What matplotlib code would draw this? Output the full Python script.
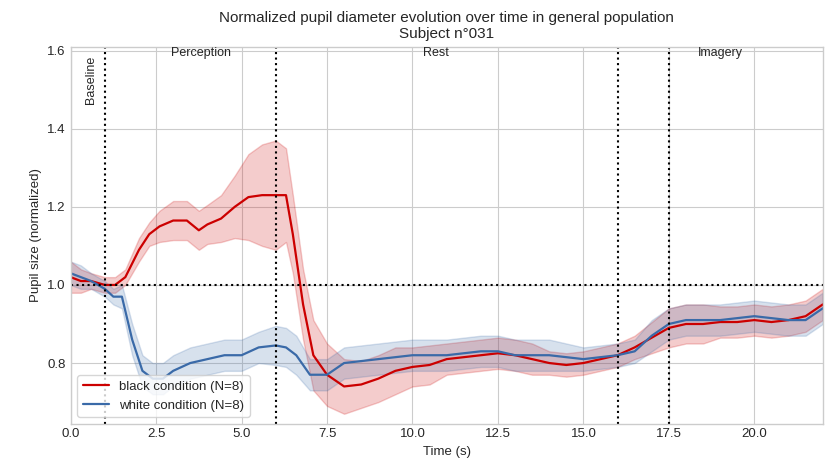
import numpy as np
import matplotlib
matplotlib.use("Agg")
import matplotlib.pyplot as plt

plt.style.use("seaborn-v0_8-whitegrid")

t_black = [0, 0.3, 0.6, 1.0, 1.3, 1.6, 2.0, 2.3, 2.6, 3.0, 3.4, 3.75, 4.0, 4.4, 4.8, 5.2, 5.6, 6.0, 6.3, 6.5, 6.8, 7.1, 7.5, 8.0, 8.5, 9.0, 9.5, 10.0, 10.5, 11.0, 12.0, 12.5, 13.0, 13.5, 14.0, 14.5, 15.0, 15.5, 16.0, 16.5, 17.0, 17.5, 18.0, 18.5, 19.0, 19.5, 20.0, 20.5, 21.0, 21.5, 22.0]
m_black = [1.02, 1.01, 1.01, 1.0, 1.0, 1.02, 1.09, 1.13, 1.15, 1.165, 1.165, 1.14, 1.155, 1.17, 1.20, 1.225, 1.23, 1.23, 1.23, 1.13, 0.95, 0.82, 0.77, 0.74, 0.745, 0.76, 0.78, 0.79, 0.795, 0.81, 0.82, 0.825, 0.82, 0.81, 0.80, 0.795, 0.80, 0.81, 0.82, 0.84, 0.865, 0.89, 0.90, 0.90, 0.905, 0.905, 0.91, 0.905, 0.91, 0.92, 0.95]
s_black = [0.04, 0.03, 0.02, 0.02, 0.02, 0.02, 0.03, 0.03, 0.04, 0.05, 0.05, 0.05, 0.05, 0.06, 0.08, 0.11, 0.13, 0.14, 0.12, 0.10, 0.09, 0.09, 0.08, 0.07, 0.06, 0.06, 0.06, 0.05, 0.05, 0.04, 0.04, 0.04, 0.04, 0.04, 0.03, 0.03, 0.03, 0.03, 0.03, 0.03, 0.04, 0.05, 0.05, 0.05, 0.04, 0.04, 0.04, 0.04, 0.04, 0.04, 0.04]

t_white = [0, 0.3, 0.6, 1.0, 1.25, 1.5, 1.8, 2.1, 2.4, 2.7, 3.0, 3.5, 4.0, 4.5, 5.0, 5.5, 6.0, 6.3, 6.6, 7.0, 7.5, 8.0, 9.0, 10.0, 11.0, 12.0, 12.5, 13.0, 14.0, 15.0, 16.0, 16.5, 17.0, 17.5, 18.0, 19.0, 20.0, 20.5, 21.0, 21.5, 22.0]
m_white = [1.03, 1.02, 1.01, 0.99, 0.97, 0.97, 0.86, 0.78, 0.76, 0.76, 0.78, 0.80, 0.81, 0.82, 0.82, 0.84, 0.845, 0.84, 0.82, 0.77, 0.77, 0.80, 0.81, 0.82, 0.82, 0.83, 0.83, 0.82, 0.82, 0.81, 0.82, 0.83, 0.87, 0.90, 0.91, 0.91, 0.92, 0.915, 0.91, 0.91, 0.94]
s_white = [0.03, 0.03, 0.02, 0.02, 0.02, 0.03, 0.04, 0.04, 0.04, 0.04, 0.04, 0.04, 0.04, 0.04, 0.04, 0.04, 0.05, 0.05, 0.05, 0.04, 0.04, 0.04, 0.04, 0.04, 0.04, 0.04, 0.04, 0.04, 0.04, 0.03, 0.03, 0.03, 0.04, 0.04, 0.04, 0.04, 0.04, 0.04, 0.04, 0.04, 0.04]

events = [1.0, 6.0, 16.0, 17.5]

red = "#cc0000"
blue = "#3a6aa8"

fig, ax = plt.subplots(figsize=(8.31, 4.68), dpi=100)
mb, sb = np.array(m_black), np.array(s_black)
mw, sw = np.array(m_white), np.array(s_white)
ax.fill_between(t_black, mb - sb, mb + sb, color=red, alpha=0.2)
ax.fill_between(t_white, mw - sw, mw + sw, color=blue, alpha=0.2)
ax.plot(t_black, m_black, color=red, lw=1.6, label="black condition (N=8)")
ax.plot(t_white, m_white, color=blue, lw=1.6, label="white condition (N=8)")

for x in events:
    ax.axvline(x, color="black", ls=":", lw=1.5)
ax.axhline(1.0, color="black", ls=":", lw=1.5)

ax.text(0.6, 1.525, "Baseline", rotation=90, ha="center", va="center", fontsize=9)
ax.text(3.8, 1.595, "Perception", ha="center", va="center", fontsize=9)
ax.text(10.7, 1.595, "Rest", ha="center", va="center", fontsize=9)
ax.text(19.0, 1.595, "Imagery", ha="center", va="center", fontsize=9)

ax.set_xlim(0, 22)
ax.set_ylim(0.645, 1.61)
ax.set_xticks([0, 2.5, 5, 7.5, 10, 12.5, 15, 17.5, 20])
ax.tick_params(labelsize=9.5)
ax.set_xlabel("Time (s)", fontsize=9.5)
ax.set_ylabel("Pupil size (normalized)", fontsize=9.5)
ax.set_title("Normalized pupil diameter evolution over time in general population\nSubject n°031", fontsize=11)
ax.legend(loc="lower left", frameon=True, fontsize=9.5)
for sp in ax.spines.values():
    sp.set_visible(True)
    sp.set_color("#cccccc")
fig.subplots_adjust(left=0.085, right=0.99, top=0.9, bottom=0.095)
fig.savefig("out.png")
